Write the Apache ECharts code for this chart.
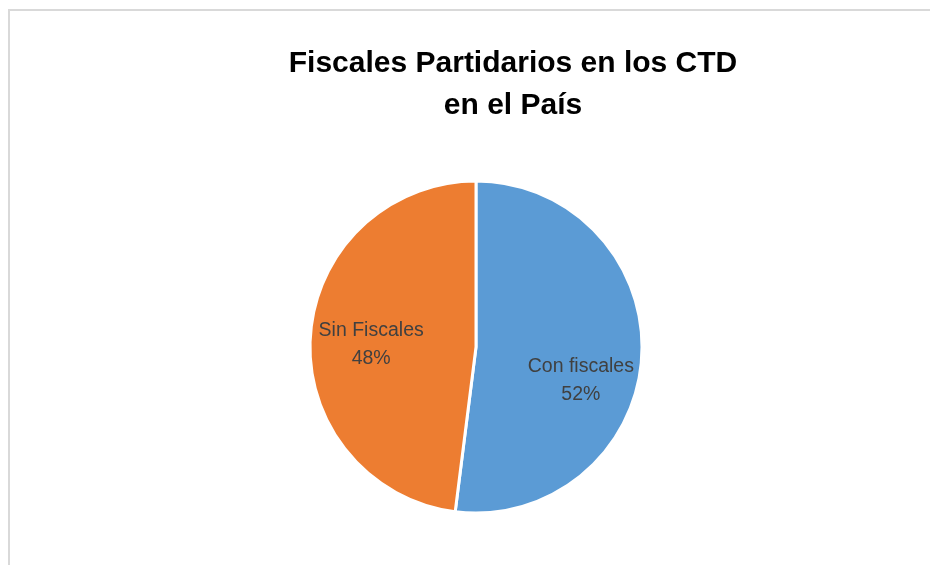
<!DOCTYPE html>
<html><head><meta charset="utf-8">
<script src="https://cdn.jsdelivr.net/npm/echarts@6/dist/echarts.min.js"></script>
<style>html,body{margin:0;padding:0;background:#fff}#c{width:930px;height:565px}</style>
</head><body><div id="c"></div>
<script>
const titleLines = ['Fiscales Partidarios en los CTD', 'en el País'];
const categories = ['Con fiscales', 'Sin Fiscales'];
const values = [52, 48];
const colors = ['#5b9bd5', '#ed7d31'];

const chart = echarts.init(document.getElementById('c'), null, {renderer: 'canvas'});
chart.setOption({
  backgroundColor: '#fff',
  animation: false,
  graphic: [{
    type: 'rect', shape: {x: 9, y: 10, width: 940, height: 600},
    style: {fill: 'none', stroke: '#d9d9d9', lineWidth: 2}, silent: true
  }],
  title: {
    text: titleLines.join('\n'),
    left: 508, top: 38, textAlign: 'center',
    textStyle: {fontFamily: 'Liberation Sans', fontWeight: 'bold', fontSize: 30, color: '#000', lineHeight: 42}
  },
  series: [{
    type: 'pie',
    center: [476, 347],
    radius: 166,
    startAngle: 90,
    clockwise: true,
    itemStyle: {borderColor: '#fff', borderWidth: 3},
    label: {
      position: 'inside',
      formatter: p => p.name + '\n' + p.percent.toFixed(0) + '%',
      fontFamily: 'Liberation Sans', fontSize: 19.5, color: '#404040', lineHeight: 28
    },
    labelLayout: p => p.dataIndex === 0 ? {dx: 19, dy: 28} : {dx: -19, dy: 3},
    labelLine: {show: false},
    emphasis: {disabled: true},
    data: categories.map((n, i) => ({name: n, value: values[i], itemStyle: {color: colors[i]}}))
  }]
});
</script></body></html>
